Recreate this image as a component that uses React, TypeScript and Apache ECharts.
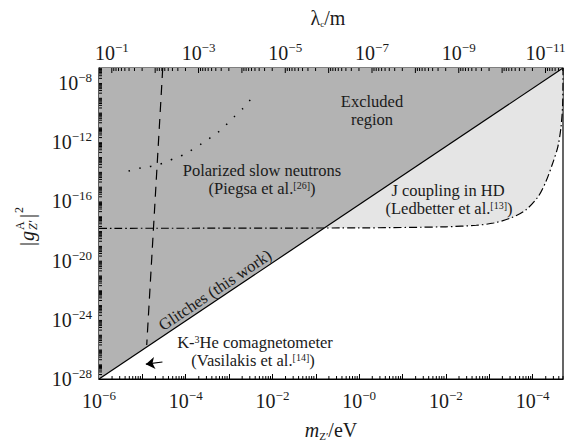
import React, { useEffect, useRef } from 'react';
import * as echarts from 'echarts';

// ---------- data ----------
const HBARC_EV_M = 1.97327e-7; // ħc in eV·m, links m_Z' and λ_c
const M_MIN = 1e-6;
const M_MAX = 5e4;
const G_MIN = 1e-28;
const G_MAX = 1e-7;

const xTickExponents = ['−6', '−4', '−2', '−0', '−2', '−4'];
const yTickExponents = ['−28', '−24', '−20', '−16', '−12', '−8'];
const lambdaTickExponents = [-1, -3, -5, -7, -9, -11];

// Glitches (this work): boundary of excluded region
const glitchMass = [1e-6, 5e4];
const glitchCoupling = [1e-28, 1e-7];

// K-3He comagnetometer (dashed)
const kheMass = [2.95e-5, 1.26e-5];
const kheCoupling = [1e-7, 2.0e-26];

// arrow pointing at K-3He curve
const arrowMass = [2.9e-5, 1.2e-5];
const arrowCoupling = [1.4e-27, 1.0e-27];

// Polarized slow neutrons (dotted)
const neutronMass = [4.8e-6, 9.5e-6, 1.7e-5, 3.0e-5, 5.0e-5, 8.5e-5, 1.5e-4, 6.5e-4, 9.8e-4, 1.6e-3, 2.5e-3, 3.4e-3];
const neutronCoupling = [1.1e-14, 1.8e-14, 2.4e-14, 3.8e-14, 7.0e-14, 1.3e-13, 3.4e-13, 6.5e-12, 2.2e-11, 9.0e-11, 3.2e-10, 1.1e-9];

// J coupling in HD (dash-dot)
const hdMass = [1e-6, 1, 100, 500, 1.26e3, 3.1e3, 6.9e3, 1.32e4, 2.0e4, 2.9e4, 3.8e4, 4.47e4, 4.9e4, 5e4];
const hdCoupling = [1.5e-18, 1.6e-18, 1.9e-18, 2.4e-18, 3.4e-18, 7.4e-18, 2.6e-17, 1.95e-16, 2.0e-15, 3.8e-14, 4.7e-13, 8.9e-12, 3.2e-10, 1e-7];

// ---------- helpers ----------
const L = Math.log10;
const pairs = (xs: number[], ys: number[]) => xs.map((x, i) => [L(x), L(ys[i])]);
const FONT = 'Liberation Serif';
const INK = '#1a1a1a';

const tickRich = {
  b: { fontSize: 20, fontFamily: FONT, lineHeight: 24, color: INK },
  s: { fontSize: 13, fontFamily: FONT, lineHeight: 13, verticalAlign: 'top', color: INK },
};
const labelRich = {
  n: { fontSize: 16.5, fontFamily: FONT, lineHeight: 16, color: INK, fill: INK },
  s: { fontSize: 10, fontFamily: FONT, lineHeight: 8, verticalAlign: 'top', color: INK, fill: INK },
};

function txt(x: number, y: number, text: string, extra: any = {}) {
  return {
    type: 'text',
    x,
    y,
    z: 100,
    silent: true,
    ...extra,
    style: {
      text,
      rich: labelRich,
      fill: INK,
      fontFamily: FONT,
      fontSize: 16.5,
      align: 'center',
      verticalAlign: 'middle',
      textAlign: 'center',
      textVerticalAlign: 'middle',
    },
  };
}

export default function App() {
  const ref = useRef<HTMLDivElement>(null);
  useEffect(() => {
    if (!ref.current) return;
    const chart = echarts.init(ref.current, null, { renderer: 'svg' });
    const xMinL = L(M_MIN), xMaxL = L(M_MAX), yMinL = L(G_MIN), yMaxL = L(G_MAX);
    const lh = L(HBARC_EV_M);
    const MAJOR = 5, MINOR = 3;

    const ticksRender = (params: any, api: any) => {
      if (params.dataIndex !== 0) return;
      const cs = params.coordSys;
      const left = cs.x, top = cs.y, bottom = cs.y + cs.height;
      const children: any[] = [];
      const tick = (x1: number, y1: number, x2: number, y2: number) =>
        children.push({ type: 'line', shape: { x1, y1, x2, y2 }, style: { stroke: '#000', lineWidth: 1 } });
      for (let k = Math.floor(xMinL); k <= Math.ceil(xMaxL); k++) {
        for (let d = 2; d <= 9; d++) {
          const v = L(d) + k;
          if (v < xMinL || v > xMaxL) continue;
          const x = api.coord([v, yMinL])[0];
          tick(x, bottom, x, bottom - MINOR);
        }
      }
      for (let k = Math.floor(yMinL); k <= Math.ceil(yMaxL); k++) {
        for (let d = 2; d <= 9; d++) {
          const v = L(d) + k;
          if (v < yMinL || v > yMaxL) continue;
          const y = api.coord([xMinL, v])[1];
          tick(left, y, left + MINOR, y);
        }
      }
      for (let k = -13; k <= 1; k++) {
        for (let d = 1; d <= 9; d++) {
          const lm = lh - (L(d) + k);
          if (lm < xMinL || lm > xMaxL) continue;
          const x = api.coord([lm, yMaxL])[0];
          tick(x, top, x, top + (d === 1 ? MAJOR : MINOR));
        }
      }
      lambdaTickExponents.forEach((e) => {
        const x = api.coord([lh - e, yMaxL])[0];
        children.push({
          type: 'text',
          x,
          y: top - 3,
          style: {
            text: `{b|10}{s|−${-e}}`,
            rich: tickRich,
            fill: INK,
            fontFamily: FONT,
            align: 'center',
            verticalAlign: 'bottom',
            textAlign: 'center',
            textVerticalAlign: 'bottom',
          },
        });
      });
      return { type: 'group', children };
    };

    const option: any = {
      animation: false,
      backgroundColor: '#fff',
      textStyle: { fontFamily: FONT },
      grid: { left: 99, top: 68, right: 11, bottom: 63, show: true, borderColor: '#000', borderWidth: 1.2, backgroundColor: 'transparent' },
      xAxis: {
        type: 'value',
        min: xMinL,
        max: xMaxL,
        interval: 1,
        axisLine: { show: true, onZero: false, lineStyle: { color: '#000', width: 1.2 } },
        axisTick: { show: true, inside: true, length: MAJOR, lineStyle: { color: '#000', width: 1 } },
        splitLine: { show: false },
        axisLabel: {
          margin: 10,
          showMaxLabel: false,
          fontFamily: FONT,
          formatter: (v: number) => {
            const r = Math.round(v);
            if (Math.abs(v - r) > 1e-6 || (r + 6) % 2 !== 0) return '';
            const idx = (r + 6) / 2;
            if (idx < 0 || idx >= xTickExponents.length) return '';
            return `{b|10}{s|${xTickExponents[idx]}}`;
          },
          rich: tickRich,
        },
      },
      yAxis: {
        type: 'value',
        min: yMinL,
        max: yMaxL,
        interval: 1,
        axisLine: { show: true, onZero: false, lineStyle: { color: '#000', width: 1.2 } },
        axisTick: { show: true, inside: true, length: MAJOR, lineStyle: { color: '#000', width: 1 } },
        splitLine: { show: false },
        axisLabel: {
          margin: 7,
          showMaxLabel: false,
          fontFamily: FONT,
          formatter: (v: number) => {
            const r = Math.round(v);
            if (Math.abs(v - r) > 1e-6 || (r + 28) % 4 !== 0) return '';
            const idx = (r + 28) / 4;
            if (idx < 0 || idx >= yTickExponents.length) return '';
            return `{b|10}{s|${yTickExponents[idx]}}`;
          },
          rich: tickRich,
        },
      },
      series: [
        {
          name: 'J coupling fill',
          type: 'line',
          data: pairs(hdMass, hdCoupling),
          smooth: 0.3,
          showSymbol: false,
          symbol: 'none',
          lineStyle: { opacity: 0 },
          areaStyle: { color: '#e5e5e5', opacity: 1, origin: 'end' },
          z: 1,
        },
        {
          name: 'Excluded',
          type: 'line',
          data: pairs(glitchMass, glitchCoupling),
          showSymbol: false,
          symbol: 'none',
          lineStyle: { color: '#000', width: 1.2 },
          areaStyle: { color: '#b3b3b3', opacity: 1, origin: 'end' },
          z: 2,
        },
        {
          name: 'J coupling in HD',
          type: 'line',
          data: pairs(hdMass, hdCoupling),
          smooth: 0.3,
          showSymbol: false,
          symbol: 'none',
          lineStyle: { color: '#000', width: 1.2, type: [8, 3, 1.5, 3] },
          z: 3,
        },
        {
          name: 'K-3He',
          type: 'line',
          data: pairs(kheMass, kheCoupling),
          showSymbol: false,
          symbol: 'none',
          lineStyle: { color: '#000', width: 1.2, type: [10, 7] },
          z: 3,
        },
        {
          name: 'Neutrons',
          type: 'line',
          data: pairs(neutronMass, neutronCoupling),
          smooth: 0.4,
          showSymbol: false,
          symbol: 'none',
          lineStyle: { color: '#000', width: 1.5, type: [1.5, 9.5] },
          z: 3,
        },
        {
          name: 'arrow',
          type: 'lines',
          coordinateSystem: 'cartesian2d',
          data: [{ coords: pairs(arrowMass, arrowCoupling) }],
          symbol: ['none', 'arrow'],
          symbolSize: 9,
          lineStyle: { color: '#000', width: 1.2, opacity: 1, curveness: 0 },
          z: 4,
        },
        {
          name: 'ticks',
          type: 'custom',
          coordinateSystem: 'cartesian2d',
          data: [[xMinL, yMinL]],
          renderItem: ticksRender,
          clip: false,
          silent: true,
          z: 10,
        },
      ],
      graphic: [
        txt(372, 101, '{n|Excluded}'),
        txt(372, 119, '{n|region}'),
        txt(262, 170, '{n|Polarized slow neutrons}'),
        txt(262, 188, '{n|(Piegsa et al.}{s|[26]}{n|)}'),
        txt(448, 190, '{n|J coupling in HD}'),
        txt(449, 208, '{n|(Ledbetter et al.}{s|[13]}{n|)}'),
        txt(255, 342, '{n|K-}{s|3}{n|He comagnetometer}'),
        txt(253, 360, '{n|(Vasilakis et al.}{s|[14]}{n|)}'),
        txt(215, 290, '{n|Glitches (this work)}', { rotation: Math.atan(311 / 464) }),
        {
          type: 'text',
          x: 331,
          y: 430,
          z: 100,
          silent: true,
          style: {
            text: '{i|m}{z|Z′}{n|/eV}',
            fontFamily: FONT,
            rich: {
              i: { fontSize: 20, fontStyle: 'italic', fontFamily: FONT, lineHeight: 22, fill: INK, color: INK },
              z: { fontSize: 11, fontFamily: FONT, lineHeight: 12, verticalAlign: 'bottom', fill: INK, color: INK },
              n: { fontSize: 20, fontFamily: FONT, lineHeight: 22, fill: INK, color: INK },
            },
            align: 'center',
            verticalAlign: 'middle',
            textAlign: 'center',
            textVerticalAlign: 'middle',
          },
        },
        {
          type: 'text',
          x: 328,
          y: 18,
          z: 100,
          silent: true,
          style: {
            text: '{n|λ}{z|c}{n|/m}',
            fontFamily: FONT,
            rich: {
              z: { fontSize: 9, fontFamily: FONT, lineHeight: 10, verticalAlign: 'bottom', fill: INK, color: INK },
              n: { fontSize: 20, fontFamily: FONT, lineHeight: 20, fill: INK, color: INK },
            },
            align: 'center',
            verticalAlign: 'middle',
            textAlign: 'center',
            textVerticalAlign: 'middle',
          },
        },
        {
          type: 'group',
          x: 27,
          y: 225,
          z: 100,
          rotation: Math.PI / 2,
          silent: true,
          children: [
            { type: 'text', x: -21, y: 0, style: { text: '|', fontFamily: FONT, fontSize: 20, fill: INK, textVerticalAlign: 'middle', verticalAlign: 'middle' } },
            { type: 'text', x: -16, y: 0, style: { text: 'g', fontFamily: FONT, fontSize: 20, fontStyle: 'italic', fill: INK, textVerticalAlign: 'middle', verticalAlign: 'middle' } },
            { type: 'text', x: -5, y: -7, style: { text: 'A', fontFamily: FONT, fontSize: 12, fill: INK, textVerticalAlign: 'middle', verticalAlign: 'middle' } },
            { type: 'text', x: -5, y: 6, style: { text: 'Z′', fontFamily: FONT, fontSize: 12, fontStyle: 'italic', fill: INK, textVerticalAlign: 'middle', verticalAlign: 'middle' } },
            { type: 'text', x: 7, y: 0, style: { text: '|', fontFamily: FONT, fontSize: 20, fill: INK, textVerticalAlign: 'middle', verticalAlign: 'middle' } },
            { type: 'text', x: 12, y: -8, style: { text: '2', fontFamily: FONT, fontSize: 12, fill: INK, textVerticalAlign: 'middle', verticalAlign: 'middle' } },
          ],
        },
      ],
    };
    chart.setOption(option);
    return () => chart.dispose();
  }, []);
  return <div ref={ref} style={{ position: 'fixed', left: 0, top: 0, width: 574, height: 442 }} />;
}
